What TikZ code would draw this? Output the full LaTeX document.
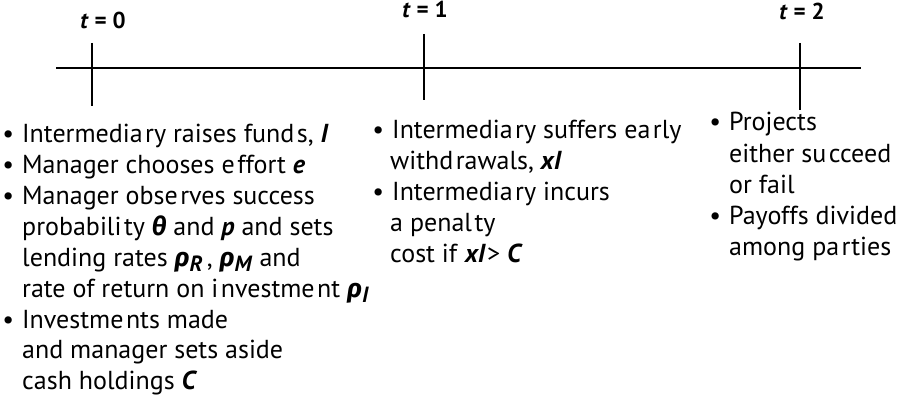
\documentclass[tikz,border=0pt]{standalone}
\usepackage{fontspec}
\setmainfont{PT Sans}
\newfontfamily\grk{Fira Sans}
\newcommand\vb[1]{\textbf{\textit{#1}}}
\newcommand\grkb[1]{{\grk\bfseries\itshape #1}}
\newcommand\subb[1]{\raisebox{-5pt}{\fontsize{22}{22}\selectfont\vb{#1}}}
\newcommand\bul{\llap{•\hspace{8pt}}}
\newcommand\gp{\kern2.5pt}
\begin{document}
\begin{tikzpicture}[x=1pt,y=-1pt,
  axis/.style={line width=1.6pt},
  tlabel/.style={anchor=base,inner sep=0pt,font=\fontsize{23}{23}\selectfont\bfseries},
  txt/.style={anchor=base west,inner sep=0pt,font=\fontsize{26}{31}\selectfont}]
\useasboundingbox (0,0) rectangle (901,401);
% timeline
\coordinate (L) at (56,68);
\coordinate (R) at (861,68);
\draw[axis] (L) -- (R);
\coordinate (t0a) at (92,43);  \coordinate (t0b) at (92,106);
\coordinate (t1a) at (424,34); \coordinate (t1b) at (424,100);
\coordinate (t2a) at (800,43); \coordinate (t2b) at (800,110);
\draw[axis] (t0a) -- (t0b);
\draw[axis] (t1a) -- (t1b);
\draw[axis] (t2a) -- (t2b);
\node[tlabel] (lab0) at (103,29) {\textit{t} = 0};
\node[tlabel] (lab1) at (425,18) {\textit{t} = 1};
\node[tlabel] (lab2) at (802,20) {\textit{t} = 2};
% left block
\node[txt] (a1) at (22,142) {\bul Intermedia\gp ry raises fund\gp s, \vb{I}};
\node[txt] (a2) at (22,173) {\bul Manager chooses e\gp ffort \vb{e}};
\node[txt] (a3) at (22,204) {\bul Manager obse\gp rves success};
\node[txt] (a4) at (22,235) {probabili\gp ty \grkb{θ} and \vb{p} and sets};
\node[txt] (a5) at (22,266) {lending rates \grkb{ρ}\subb{R}\,, \grkb{ρ}\subb{M} and};
\node[txt] (a6) at (22,297) {rate of return on i\gp nvestme\gp nt \grkb{ρ}\subb{I}};
\node[txt] (a7) at (22,328) {\bul Investme\gp nts made};
\node[txt] (a8) at (22,358) {and manager sets aside};
\node[txt] (a9) at (22,389) {cash holdings \vb{C}};
% middle block
\node[txt] (b1) at (392,138) {\bul Intermedia\gp ry suffers ea\gp rly};
\node[txt] (b2) at (390,169) {withd\gp rawals, \vb{xI}};
\node[txt] (b3) at (392,200) {\bul Intermedia\gp ry incurs};
\node[txt] (b4) at (390,231) {a penal\gp ty};
\node[txt] (b5) at (390,262) {cost if \vb{xI}\kern1pt> \vb{C}};
% right block
\node[txt] (c1) at (729,131) {\bul Projects};
\node[txt] (c2) at (729,162) {either su\gp cceed};
\node[txt] (c3) at (729,193) {or fail};
\node[txt] (c4) at (729,224) {\bul Payoffs divided};
\node[txt] (c5) at (729,255) {among pa\gp rties};
\end{tikzpicture}
\end{document}
